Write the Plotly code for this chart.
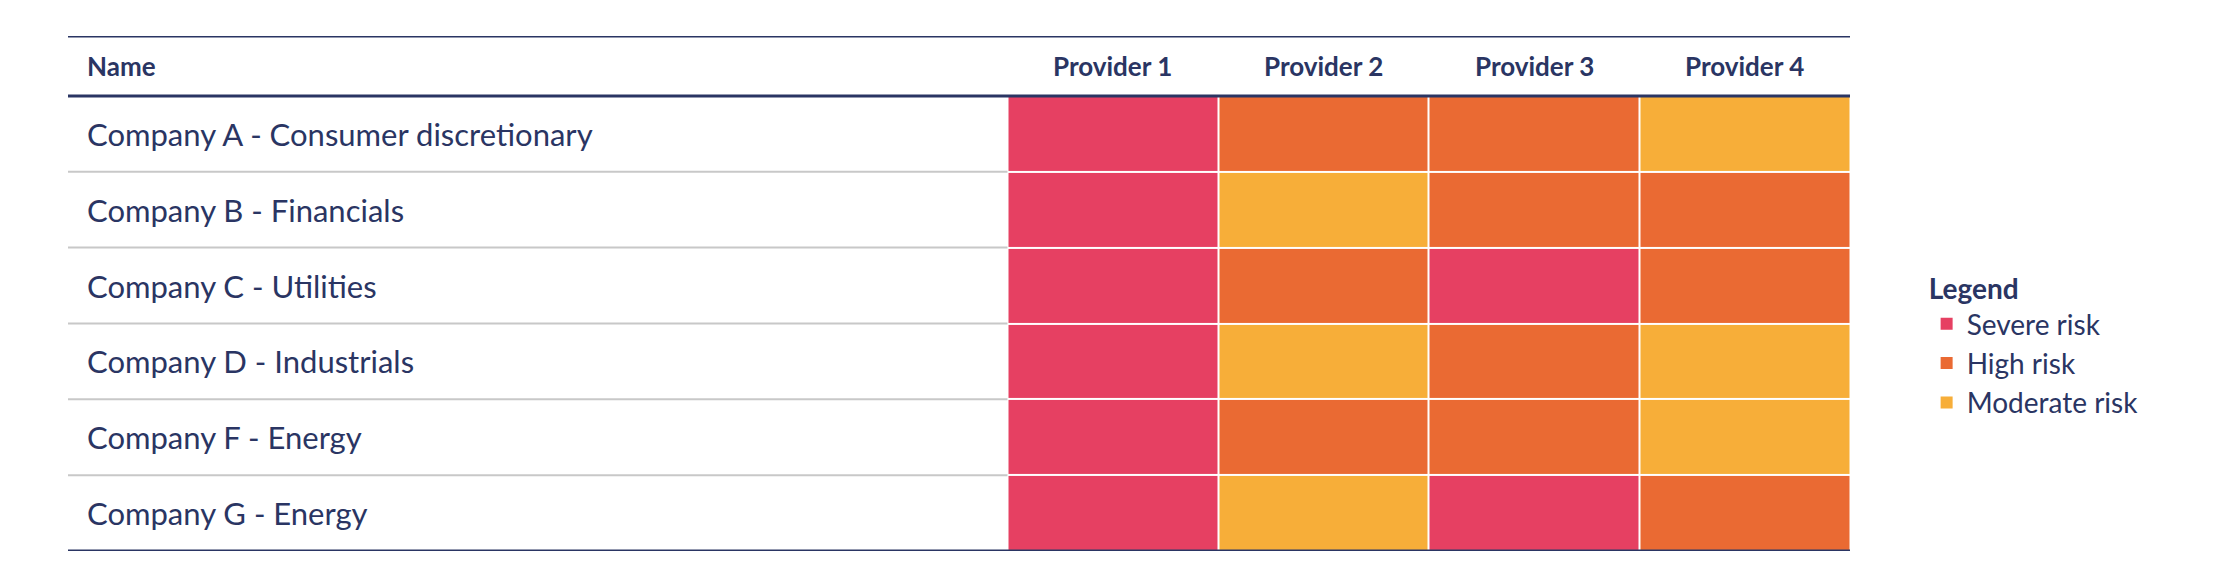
import plotly.graph_objects as go

companies = ["Company A - Consumer discretionary", "Company B - Financials", "Company C - Utilities",
             "Company D - Industrials", "Company F - Energy", "Company G - Energy"]
providers = ["Provider 1", "Provider 2", "Provider 3", "Provider 4"]
levels = ["Moderate risk", "High risk", "Severe risk"]
# 0 = moderate, 1 = high, 2 = severe
ratings = [
    [2, 1, 1, 0],
    [2, 0, 1, 1],
    [2, 1, 2, 1],
    [2, 0, 1, 0],
    [2, 1, 1, 0],
    [2, 0, 2, 1],
]
level_colors = ["#F7AE39", "#EA6A33", "#E64062"]

navy = "#2A3563"
font = "Lato"
x_left = -4.96
x_right = 3.5
y_top = -1.29

fig = go.Figure()
fig.add_trace(go.Heatmap(
    z=ratings, x=list(range(len(providers))), y=list(range(len(companies))),
    zmin=-0.5, zmax=2.5,
    colorscale=[[0, level_colors[0]], [1/3, level_colors[0]], [1/3, level_colors[1]],
                [2/3, level_colors[1]], [2/3, level_colors[2]], [1, level_colors[2]]],
    showscale=False, xgap=2, ygap=2, hoverinfo="skip",
))

# legend entries
for name, col in zip(reversed(levels), reversed(level_colors)):
    fig.add_trace(go.Scatter(x=[None], y=[None], mode="markers", name=name,
                             marker=dict(symbol="square", size=20, color=col)))

shapes = []
# row separators
for i in range(1, len(companies)):
    shapes.append(dict(type="line", xref="x", yref="y", x0=x_left, x1=-0.5, y0=i - 0.5, y1=i - 0.5,
                       line=dict(color="#C8C8C8", width=2)))
for yv in [y_top, -0.5, len(companies) - 0.5]:
    shapes.append(dict(type="line", xref="x", yref="y", x0=x_left, x1=x_right, y0=yv, y1=yv,
                       line=dict(color=navy, width=3)))

annotations = [dict(x=x_left, y=(y_top - 0.5) / 2, text="<b>Name</b>", xanchor="left", xshift=17,
                    showarrow=False, font=dict(size=26, color=navy, family=font))]
for j, p in enumerate(providers):
    annotations.append(dict(x=j, y=(y_top - 0.5) / 2, text=f"<b>{p}</b>", showarrow=False,
                            font=dict(size=26, color=navy, family=font)))
for i, c in enumerate(companies):
    annotations.append(dict(x=x_left, y=i, text=c, xanchor="left", xshift=17, showarrow=False,
                            font=dict(size=31, color=navy, family=font)))

fig.update_layout(
    width=2227, height=583,
    margin=dict(l=60, r=385, t=28, b=40),
    paper_bgcolor="white", plot_bgcolor="white",
    xaxis=dict(range=[x_left, x_right], visible=False, fixedrange=True),
    yaxis=dict(range=[len(companies) - 0.5, y_top], visible=False, fixedrange=True),
    shapes=shapes, annotations=annotations,
    showlegend=True,
    legend=dict(x=1.043, y=0.56, xanchor="left", yanchor="top",
                title=dict(text="<b>Legend</b>", font=dict(size=28, color=navy, family=font)),
                font=dict(size=28, color=navy, family=font), itemsizing="constant",
                tracegroupgap=0, bgcolor="rgba(0,0,0,0)"),
)

fig.write_html("out.html")
